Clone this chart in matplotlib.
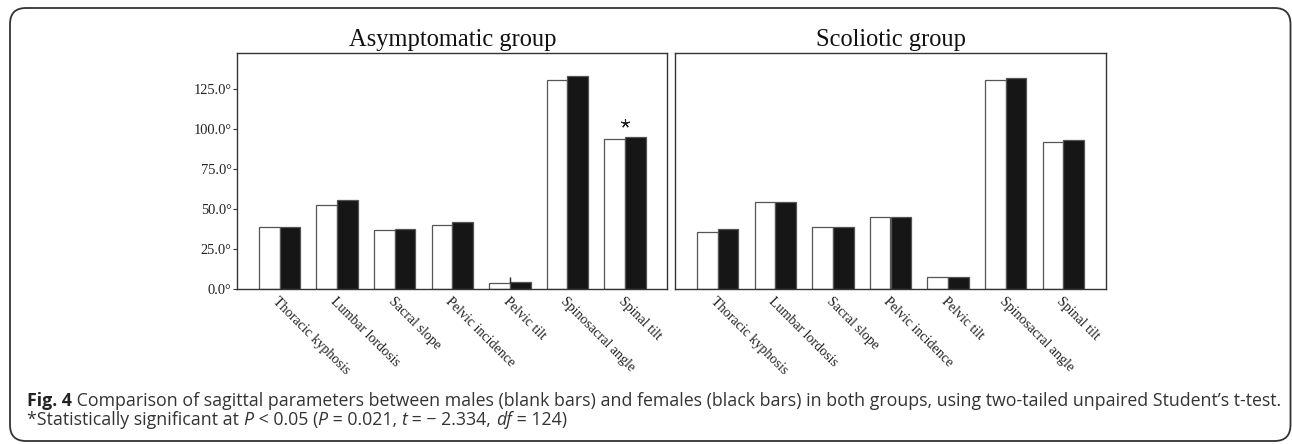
import numpy as np
import matplotlib
matplotlib.use("Agg")
import matplotlib.pyplot as plt
from matplotlib.patches import FancyBboxPatch
from matplotlib.transforms import IdentityTransform

# data (degrees)
params = ["Thoracic kyphosis", "Lumbar lordosis", "Sacral slope", "Pelvic incidence",
          "Pelvic tilt", "Spinosacral angle", "Spinal tilt"]
asym_male = [39.1, 52.9, 36.9, 40.4, 4.2, 130.6, 93.7]
asym_female = [38.75, 55.6, 37.7, 42.1, 4.8, 133.1, 95.4]
scol_male = [35.8, 54.4, 38.75, 45.4, 7.5, 130.8, 91.9]
scol_female = [37.5, 54.75, 39.1, 45.2, 7.9, 132.3, 93.3]
yticks = [0, 25, 50, 75, 100, 125]
star_idx, star_y = 6, 103.75        # significant difference marker
ptilt_idx, ptilt_top = 4, 7.9       # small stray line on pelvic tilt (asymptomatic)

SERIF = "Liberation Serif"
CAP = ["Open Sans", "DejaVu Sans"]
W, H = 1292, 444

fig = plt.figure(figsize=(W / 100, H / 100), dpi=100)
renderer = fig.canvas.get_renderer()


def width_of(s, size, **kw):
    t = fig.text(0, 0, s, fontsize=size, **kw)
    w = t.get_window_extent(renderer).width
    t.remove()
    return w


def fit(s, target, **kw):
    # font size that gives the string the pixel width seen in the reference
    return 10 * target / width_of(s, 10, **kw)


title_fs = fit("Asymptomatic group", 207, fontfamily=SERIF)
xlab_fs = fit("Thoracic kyphosis", 103, fontfamily=SERIF)
ylab_fs = fit("125.0°", 38, fontfamily=SERIF)

# rounded frame round the whole figure (pixel coordinates)
frame = FancyBboxPatch((10, 3), W - 11.5, H - 11, boxstyle="round,pad=0,rounding_size=16",
                       transform=IdentityTransform(), fill=False, ec="#333333", lw=1.3)
fig.patches.append(frame)


def panel(rect, title, male, female):
    ax = fig.add_axes(rect)
    x = np.arange(len(params))
    bw = 0.36
    ax.bar(x - bw / 2, male, bw, color="white", edgecolor="#555555", lw=0.9)
    ax.bar(x + bw / 2, female, bw, color="#161616", edgecolor="#555555", lw=0.9)
    ax.set_xlim(-0.735, len(params) - 1 + 0.735)
    ax.set_ylim(0, 147.5)
    ax.set_xticks(x)
    ax.set_xticklabels(params, rotation=-45, ha="left", va="top", rotation_mode="anchor",
                       fontfamily=SERIF, fontsize=xlab_fs, color="#222222")
    ax.tick_params(axis="x", length=0, pad=4)
    for s in ax.spines.values():
        s.set_color("#333333")
        s.set_linewidth(1.0)
    ax.set_title(title, fontfamily=SERIF, fontsize=title_fs, pad=5, color="#111111")
    return ax


ax1 = panel([237.3 / W, 1 - 289.3 / H, 430 / W, 236 / H], "Asymptomatic group",
            asym_male, asym_female)
ax1.set_yticks(yticks)
ax1.set_yticklabels([f"{v:.1f}°" for v in yticks], fontfamily=SERIF, fontsize=ylab_fs,
                    color="#222222")
ax1.tick_params(axis="y", length=3, width=0.8, color="#333333", pad=1)
ax1.plot(star_idx, star_y, marker=(5, 2, 0), ms=6.5, mew=0.8, color="#222222")
ax1.vlines(ptilt_idx, asym_male[ptilt_idx], ptilt_top, color="#222222", lw=1.0)

ax2 = panel([675.3 / W, 1 - 289.3 / H, 430.4 / W, 236 / H], "Scoliotic group",
            scol_male, scol_female)
ax2.set_yticks([])

# caption, written run by run
line1 = [
    ("Fig. 4", dict(fontweight="bold", color="#222222")),
    (" Comparison of sagittal parameters between males (blank bars) and females "
     "(black bars) in both groups, using two-tailed unpaired Student\u2019s t-test.", {}),
]
line2 = [
    ("*Statistically significant at ", {}),
    ("P", dict(fontstyle="italic")),
    (" < 0.05 (", {}),
    ("P", dict(fontstyle="italic")),
    (" = 0.021, ", {}),
    ("t", dict(fontstyle="italic")),
    (" = \u2212 2.334, ", {}),
    ("df", dict(fontstyle="italic")),
    (" = 124)", {}),
]
cap_fs = 10 * 1251 / sum(width_of(s, 10, fontfamily=CAP, **kw) for s, kw in line1)


def runs(x, y, parts):
    for s, kw in parts:
        style = dict(fontfamily=CAP, fontsize=cap_fs, color="#333333", va="baseline")
        style.update(kw)
        t = fig.text(x, y, s, transform=IdentityTransform(), **style)
        x = t.get_window_extent(renderer).x1


runs(27, H - 405.7, line1)
runs(27, H - 424.7, line2)

fig.savefig("out.png", dpi=100)
